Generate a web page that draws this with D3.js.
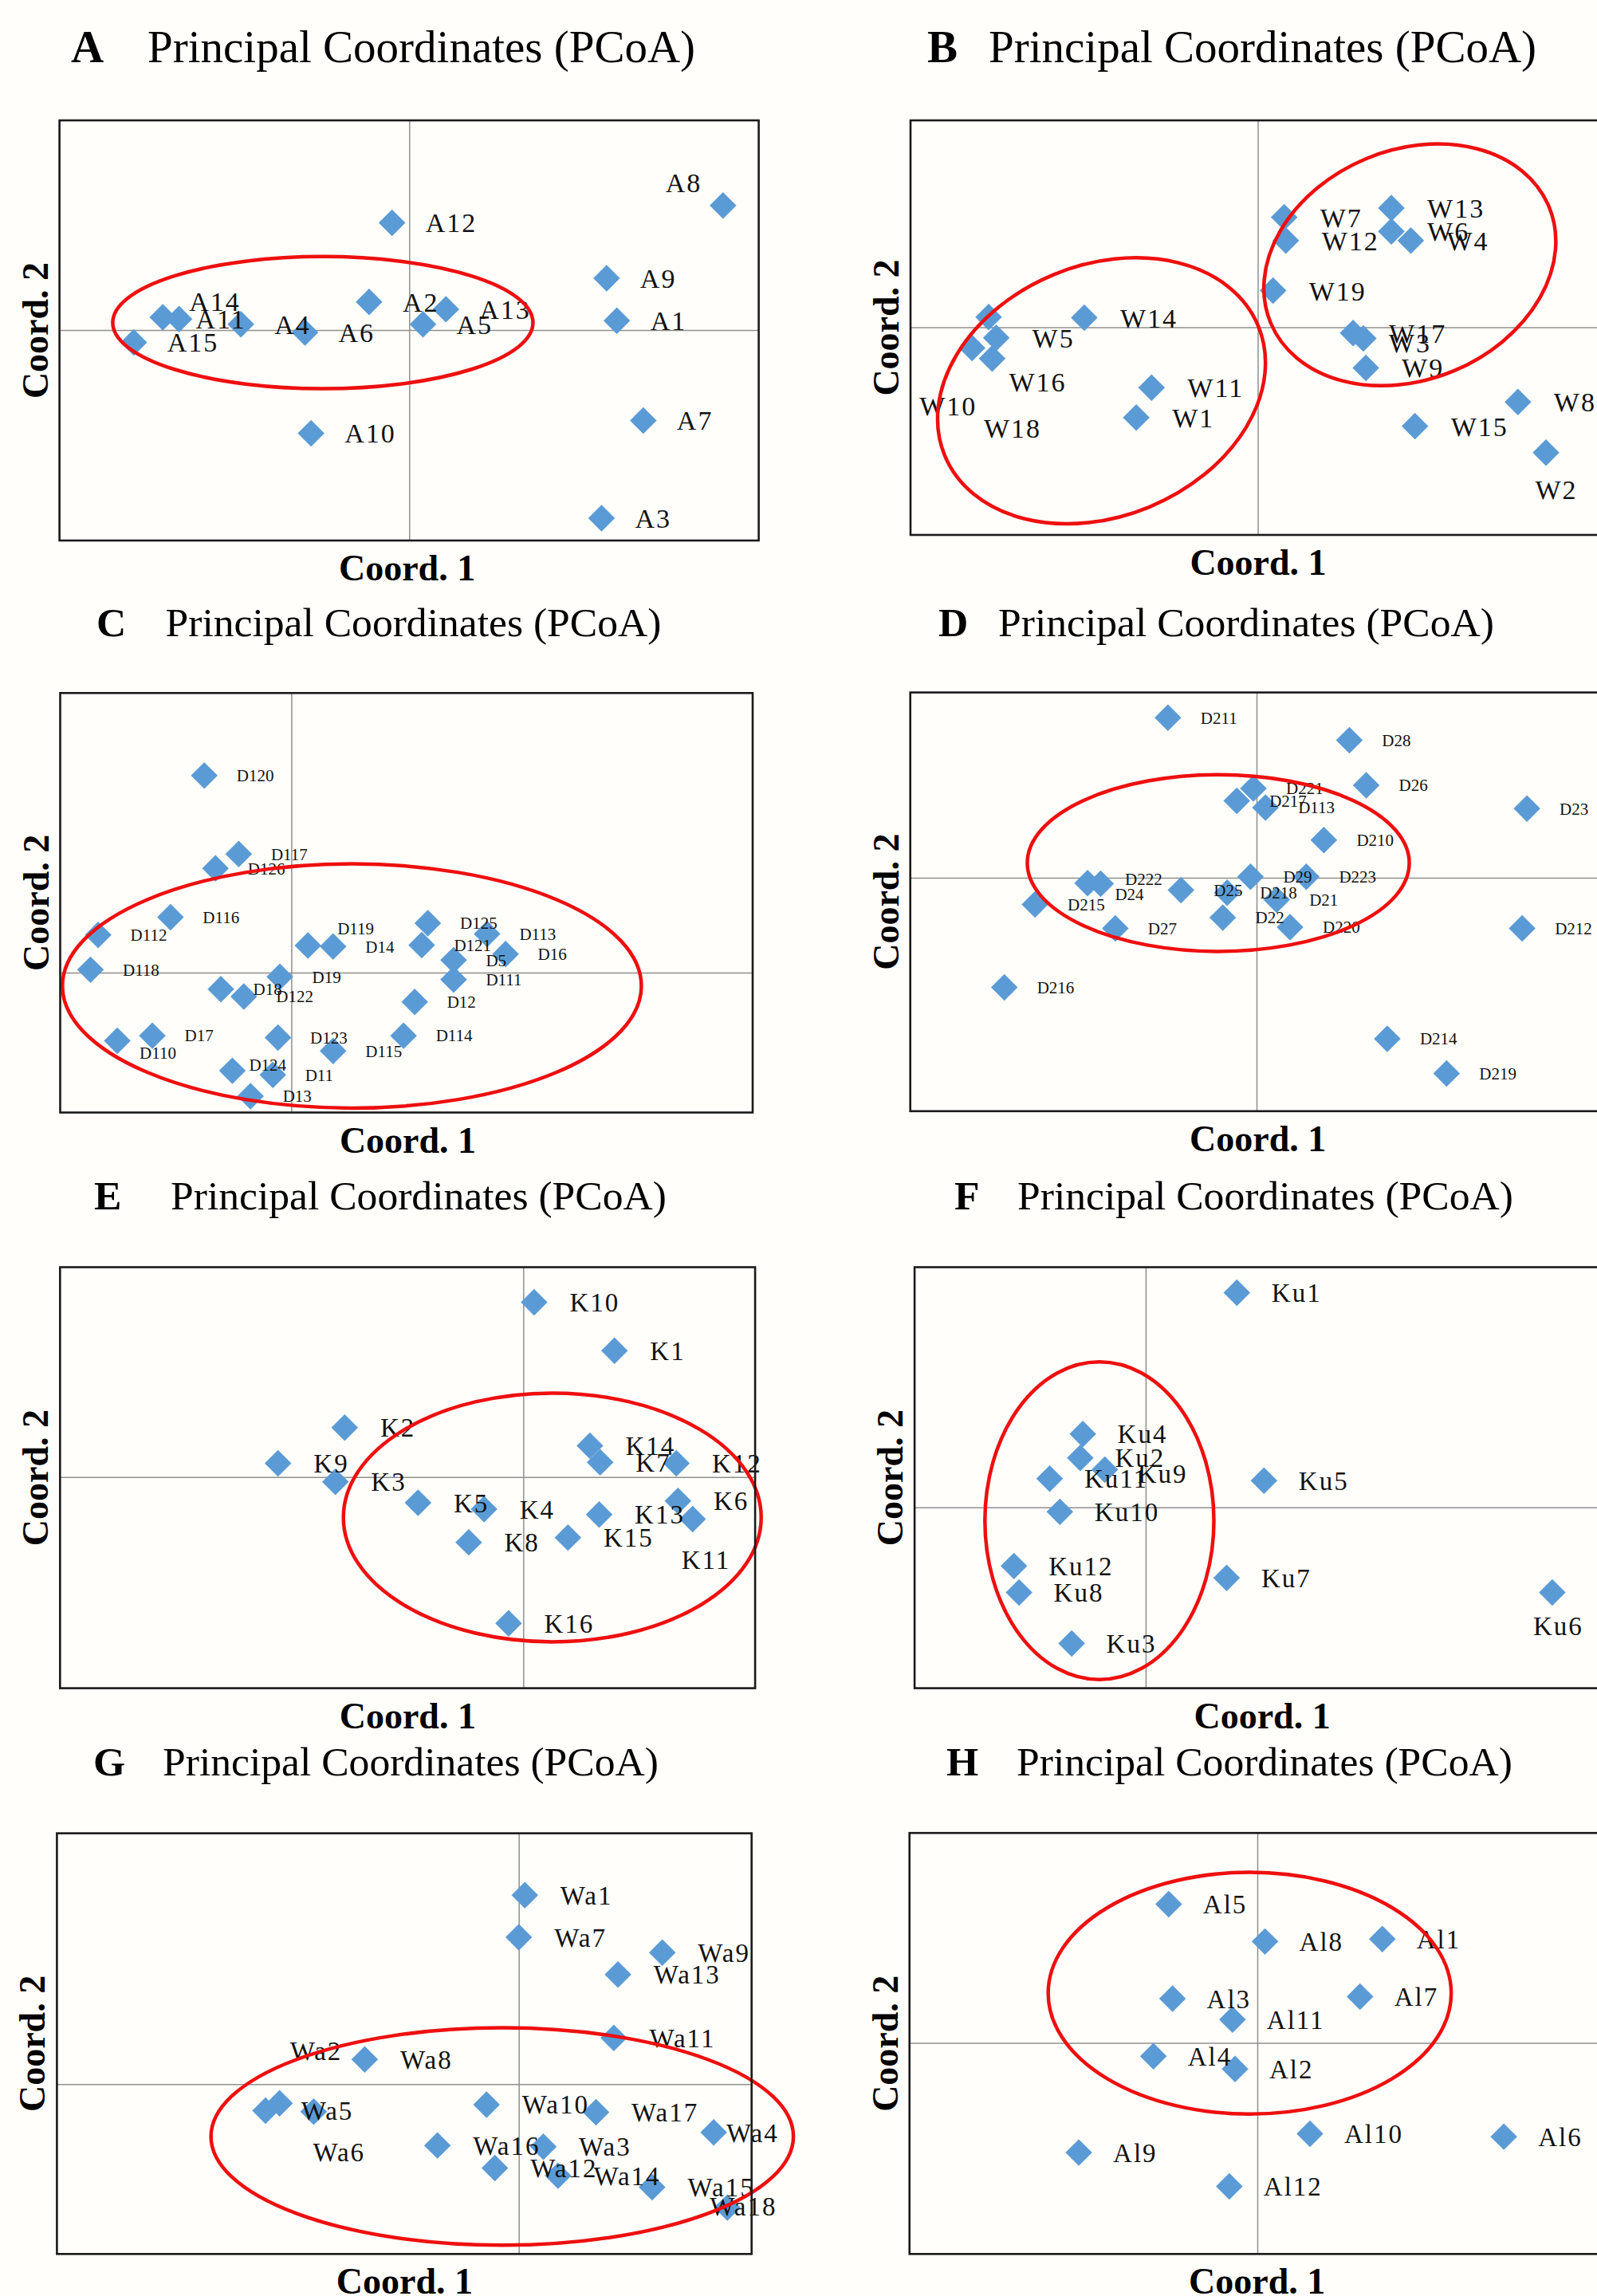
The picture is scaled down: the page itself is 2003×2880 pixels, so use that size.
<!DOCTYPE html>
<html>
<head>
<meta charset="utf-8">
<script src="https://cdn.jsdelivr.net/npm/d3@7"></script>
<style>
  body { margin: 0; background: #fffefa; }
  svg { display: block; }
</style>
</head>
<body>
<script>
// . . . data (PCoA scores, one unit = 400px on screen)

const titleText = 'Principal Coordinates (PCoA)';
const xAxisTitle = 'Coord. 1';
const yAxisTitle = 'Coord. 2';

// A
const labelsA = ['A1','A2','A3','A4','A5','A6','A7','A8','A9','A10','A11','A12','A13','A14','A15'];
const coord1A = [0.651, -0.126, 0.603, -0.528, 0.043, -0.327, 0.734, 0.984, 0.619, -0.308, -0.722, -0.054, 0.115, -0.773, -0.864];
const coord2A = [0.029, 0.088, -0.590, 0.018, 0.018, -0.008, -0.284, 0.390, 0.162, -0.324, 0.034, 0.336, 0.065, 0.040, -0.039];
const xDomainA = [-1.097, 1.096];
const yDomainA = [-0.660, 0.657];
const ellipsesA = [[-0.271, 0.023, 0.659, 0.207, 0]];

// B
const labelsB = ['W1','W2','W3','W4','W5','W6','W7','W8','W9','W10','W11','W12','W13','W14','W15','W16','W17','W18','W19'];
const coord1B = [-0.381, 0.904, 0.331, 0.480, -0.820, 0.419, 0.083, 0.816, 0.339, -0.896, -0.333, 0.088, 0.419, -0.544, 0.493, -0.833, 0.299, -0.844, 0.048];
const coord2B = [-0.283, -0.393, -0.035, 0.272, -0.033, 0.301, 0.345, -0.234, -0.127, -0.065, -0.189, 0.272, 0.374, 0.030, -0.310, -0.098, -0.018, 0.032, 0.115];
const xDomainB = [-1.089, 1.104];
const yDomainB = [-0.651, 0.649];
const ellipsesB = [[-0.490, -0.199, 0.532, 0.394, -22.5], [0.477, 0.196, 0.473, 0.360, -22.8]];

// C
const labelsC = ['D11','D12','D13','D14','D5','D16','D17','D18','D19','D110','D111','D112','D113','D114','D115','D116','D117','D118','D119','D120','D121','D122','D123','D124','D125','D126'];
const coord1C = [-0.058, 0.387, -0.128, 0.131, 0.509, 0.672, -0.436, -0.221, -0.036, -0.546, 0.509, -0.606, 0.614, 0.352, 0.131, -0.379, -0.165, -0.630, 0.052, -0.273, 0.409, -0.149, -0.042, -0.185, 0.428, -0.238];
const coord2C = [-0.321, -0.092, -0.388, 0.082, 0.039, 0.058, -0.198, -0.052, -0.013, -0.214, -0.022, 0.118, 0.121, -0.198, -0.246, 0.174, 0.372, 0.009, 0.085, 0.618, 0.086, -0.075, -0.204, -0.308, 0.155, 0.327];
const xDomainC = [-0.725, 1.447];
const yDomainC = [-0.439, 0.877];
const ellipsesC = [[0.190, -0.042, 0.908, 0.383, 0]];

// D
const labelsD = ['D21','D22','D23','D24','D25','D26','D27','D28','D29','D210','D211','D212','D214','D215','D216','D217','D218','D219','D220','D221','D222','D223','D113'];
const coord1D = [0.063, -0.106, 0.848, -0.489, -0.237, 0.344, -0.443, 0.291, -0.019, 0.211, -0.278, 0.833, 0.410, -0.695, -0.791, -0.062, -0.092, 0.596, 0.105, -0.010, -0.530, 0.156, 0.028];
const coord2D = [-0.069, -0.125, 0.217, -0.019, -0.039, 0.290, -0.159, 0.431, 0.003, 0.118, 0.502, -0.159, -0.505, -0.084, -0.344, 0.241, -0.047, -0.614, -0.155, 0.280, -0.017, 0.003, 0.220];
const xDomainD = [-1.086, 1.107];
const yDomainD = [-0.732, 0.581];
const ellipsesD = [[-0.120, 0.046, 0.599, 0.277, 0]];

// E
const labelsE = ['K1','K2','K3','K4','K5','K6','K7','K8','K9','K10','K11','K12','K13','K14','K15','K16'];
const coord1E = [0.286, -0.560, -0.589, -0.123, -0.330, 0.485, 0.241, -0.171, -0.769, 0.034, 0.531, 0.480, 0.238, 0.209, 0.140, -0.046];
const coord2E = [0.396, 0.155, -0.015, -0.101, -0.081, -0.075, 0.046, -0.205, 0.043, 0.548, -0.132, 0.043, -0.118, 0.098, -0.190, -0.459];
const xDomainE = [-1.4525, 0.727];
const yDomainE = [-0.6625, 0.658];
const ellipsesE = [[0.091, -0.127, 0.655, 0.390, 0]];

// F
const labelsF = ['Ku1','Ku2','Ku3','Ku4','Ku5','Ku6','Ku7','Ku8','Ku9','Ku10','Ku11','Ku12'];
const coord1F = [0.286, -0.205, -0.232, -0.197, 0.371, 1.275, 0.254, -0.397, -0.128, -0.269, -0.301, -0.413];
const coord2F = [0.673, 0.155, -0.427, 0.230, 0.084, -0.267, -0.221, -0.267, 0.118, -0.014, 0.090, -0.184];
const xDomainF = [-0.7245, 1.468];
const yDomainF = [-0.567, 0.753];
const ellipsesF = [[-0.145, -0.042, 0.359, 0.498, 0]];

// G
const labelsG = ['Wa1','Wa2','Wa3','Wa4','Wa5','Wa6','Wa7','Wa8','Wa9','Wa10','Wa11','Wa12','Wa13','Wa14','Wa15','Wa16','Wa17','Wa18'];
const coord1G = [0.019, -0.750, 0.077, 0.611, -0.794, -0.643, 0.000, -0.483, 0.450, -0.101, 0.298, -0.075, 0.311, 0.123, 0.418, -0.255, 0.242, 0.654];
const coord2G = [0.593, -0.060, -0.196, -0.151, -0.083, -0.086, 0.461, 0.078, 0.413, -0.064, 0.145, -0.263, 0.344, -0.287, -0.323, -0.192, -0.088, -0.387];
const xDomainG = [-1.448, 0.730];
const yDomainG = [-0.5325, 0.787];
const ellipsesG = [[-0.052, -0.164, 0.913, 0.341, 0]];

// H
const labelsH = ['Al1','Al2','Al3','Al4','Al5','Al6','Al7','Al8','Al9','Al10','Al11','Al12'];
const coord1H = [0.392, -0.070, -0.266, -0.326, -0.278, 0.773, 0.322, 0.024, -0.560, 0.165, -0.078, -0.088];
const coord2H = [0.326, -0.082, 0.139, -0.042, 0.435, -0.294, 0.145, 0.318, -0.344, -0.285, 0.073, -0.450];
const xDomainH = [-1.091, 1.102];
const yDomainH = [-0.662, 0.6585];
const ellipsesH = [[-0.024, 0.156, 0.632, 0.379, 0]];

// . . . layout: frame boxes, titles, label offsets (px)

const width = 2003;
const height = 2880;

const panels = [
  { letter: 'A', labels: labelsA, c1: coord1A, c2: coord2A, xd: xDomainA, yd: yDomainA, ell: ellipsesA,
    frame: [74.6, 951.6, 151, 678], title: [89, 185, 78, 57], font: 34, spacing: 2, dx: 42,
    nudge: { A8: [-72, -29], A14: [33, -20], A11: [21, 0] } },
  { letter: 'B', labels: labelsB, c1: coord1B, c2: coord2B, xd: xDomainB, yd: yDomainB, ell: ellipsesB,
    frame: [1142, 2019, 151, 671], title: [1163, 1240, 78, 57], font: 34, spacing: 2, dx: 45,
    nudge: { W3: [32, 5], W2: [-13.5, 46], W16: [21, 29], W10: [-66, 72], W18: [-6, 139] } },
  { letter: 'C', labels: labelsC, c1: coord1C, c2: coord2C, xd: xDomainC, yd: yDomainC, ell: ellipsesC,
    frame: [75.5, 944, 869.3, 1395.5], title: [121, 207.5, 798, 51.6], font: 21, spacing: 0, dx: 40.5,
    nudge: { D119: [37, -21], D110: [28, 15.5], D124: [21, -7] } },
  { letter: 'D', labels: labelsD, c1: coord1D, c2: coord2D, xd: xDomainD, yd: yDomainD, ell: ellipsesD,
    frame: [1141.7, 2018.7, 868.6, 1393.8], title: [1177, 1252, 798, 51.6], font: 21, spacing: 0, dx: 41,
    nudge: { D222: [47, -5], D24: [18, 13] } },
  { letter: 'E', labels: labelsE, c1: coord1E, c2: coord2E, xd: xDomainE, yd: yDomainE, ell: ellipsesE,
    frame: [75.3, 947.1, 1589.5, 2117.6], title: [118, 214, 1517, 51.6], font: 33, spacing: 2, dx: 44.6,
    nudge: { K11: [-14, 51] } },
  { letter: 'F', labels: labelsF, c1: coord1F, c2: coord2F, xd: xDomainF, yd: yDomainF, ell: ellipsesF,
    frame: [1147.1, 2024.1, 1589.5, 2117.6], title: [1197, 1276, 1517, 51.6], font: 33, spacing: 2, dx: 43.5,
    nudge: { Ku6: [-24, 42], Ku9: [41, 5] } },
  { letter: 'G', labels: labelsG, c1: coord1G, c2: coord2G, xd: xDomainG, yd: yDomainG, ell: ellipsesG,
    frame: [71.4, 942.7, 2299.6, 2827.3], title: [117, 204, 2227, 51.6], font: 33, spacing: 2, dx: 44.6,
    nudge: { Wa2: [13, -66], Wa6: [-1, 51], Wa4: [16, 1], Wa18: [-22, -2] } },
  { letter: 'H', labels: labelsH, c1: coord1H, c2: coord2H, xd: xDomainH, yd: yDomainH, ell: ellipsesH,
    frame: [1140.7, 2017.7, 2299.2, 2827.3], title: [1187, 1275, 2227, 51.6], font: 33, spacing: 2, dx: 43,
    nudge: {} }
];

const svg = d3.select('body')
    .append('svg')
    .attr('width', width)
    .attr('height', height);

svg.append('rect')
    .attr('width', width)
    .attr('height', height)
    .attr('fill', '#fffefa');

const diamond = d3.symbol().type(d3.symbolSquare).size(560);

function drawPanel(p) {
    const [left, right, top, bottom] = p.frame;
    const g = svg.append('g').attr('class', 'panel-' + p.letter);

    const x = d3.scaleLinear().domain(p.xd).range([left, right]);
    const y = d3.scaleLinear().domain(p.yd).range([bottom, top]);

    const points = p.labels.map((name, i) => ({ name, c1: p.c1[i], c2: p.c2[i] }));

    // zero lines
    g.append('g')
        .attr('class', 'grid')
        .attr('transform', `translate(0, ${bottom})`)
        .call(d3.axisBottom(x).tickValues([0]).tickSize(-(bottom - top)).tickFormat(''))
        .call(s => s.select('.domain').remove())
        .selectAll('line')
        .attr('stroke', '#8f8f8f')
        .attr('stroke-width', 1.5);

    g.append('g')
        .attr('class', 'grid')
        .attr('transform', `translate(${left}, 0)`)
        .call(d3.axisLeft(y).tickValues([0]).tickSize(-(right - left)).tickFormat(''))
        .call(s => s.select('.domain').remove())
        .selectAll('line')
        .attr('stroke', '#8f8f8f')
        .attr('stroke-width', 1.5);

    // markers
    g.selectAll('.pt')
        .data(points)
        .enter().append('path')
        .attr('class', 'pt')
        .attr('d', diamond)
        .attr('transform', d => `translate(${x(d.c1)}, ${y(d.c2)}) rotate(45)`)
        .attr('fill', '#5b9bd5');

    // labels
    g.selectAll('.lbl')
        .data(points)
        .enter().append('text')
        .attr('class', 'lbl')
        .attr('x', d => x(d.c1) + (p.nudge[d.name] ? p.nudge[d.name][0] : p.dx))
        .attr('y', d => y(d.c2) + (p.nudge[d.name] ? p.nudge[d.name][1] : 0))
        .attr('dy', '0.35em')
        .style('font-family', '"Liberation Serif", "Times New Roman", serif')
        .style('font-size', p.font + 'px')
        .style('letter-spacing', p.spacing + 'px')
        .attr('fill', '#111')
        .text(d => d.name);

    // group ellipses
    g.selectAll('.ell')
        .data(p.ell)
        .enter().append('ellipse')
        .attr('class', 'ell')
        .attr('cx', d => x(d[0]))
        .attr('cy', d => y(d[1]))
        .attr('rx', d => x(d[2]) - x(0))
        .attr('ry', d => y(0) - y(d[3]))
        .attr('transform', d => `rotate(${d[4]}, ${x(d[0])}, ${y(d[1])})`)
        .attr('fill', 'none')
        .attr('stroke', '#ee0f0f')
        .attr('stroke-width', 4.5);

    // frame
    g.append('rect')
        .attr('x', left)
        .attr('y', top)
        .attr('width', right - left)
        .attr('height', bottom - top)
        .attr('fill', 'none')
        .attr('stroke', '#1a1a1a')
        .attr('stroke-width', 2.6);

    // title
    const [lx, tx, ty, ts] = p.title;
    g.append('text')
        .attr('x', lx)
        .attr('y', ty)
        .style('font-family', '"Liberation Serif", serif')
        .style('font-weight', 'bold')
        .style('font-size', ts + 'px')
        .text(p.letter);

    g.append('text')
        .attr('x', tx)
        .attr('y', ty)
        .style('font-family', '"Liberation Serif", serif')
        .style('font-size', ts + 'px')
        .text(titleText);

    // axis titles
    g.append('text')
        .attr('x', left + 436)
        .attr('y', bottom + 50)
        .style('font-family', '"Liberation Serif", serif')
        .style('font-weight', 'bold')
        .style('font-size', '46px')
        .style('text-anchor', 'middle')
        .text(xAxisTitle);

    g.append('text')
        .attr('transform', `translate(${left - 15}, ${(top + bottom) / 2}) rotate(-90)`)
        .style('font-family', '"Liberation Serif", serif')
        .style('font-weight', 'bold')
        .style('font-size', '46px')
        .style('text-anchor', 'middle')
        .text(yAxisTitle);
}

panels.forEach(drawPanel);
</script>
</body>
</html>
